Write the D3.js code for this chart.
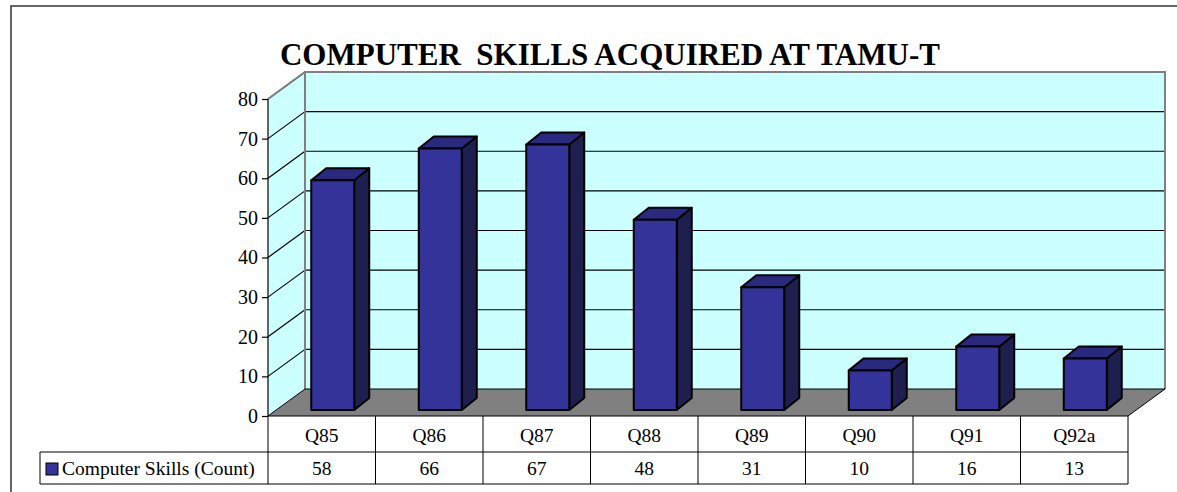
<!DOCTYPE html>
<html><head><meta charset="utf-8">
<script src="https://cdn.jsdelivr.net/npm/d3@7"></script>
<style>body{margin:0;background:#fff}svg{display:block}svg text{font-family:"Liberation Serif","Times New Roman",serif !important}</style>
</head><body><svg id="c" width="1177" height="492"></svg>
<script>
const categories = ["Q85","Q86","Q87","Q88","Q89","Q90","Q91","Q92a"];
const values = [58,66,67,48,31,10,16,13];
const yTicks = [0,10,20,30,40,50,60,70,80];
const seriesName = "Computer Skills (Count)";
const title = "COMPUTER\u00a0 SKILLS ACQUIRED AT TAMU-T";

const svg = d3.select("#c");
const X0 = 268, X1 = 1128, Y0 = 416, Ytop = 99;
const DX = 37, DY = -27;          // wall depth
const BDX = 15, BDY = -12;        // bar depth
const BOY = -6;                   // bar front offset in depth
const x = d3.scaleBand().domain(categories).range([X0, X1]);
const y = d3.scaleLinear().domain([0, 80]).range([Y0, Ytop]);

// outer frame
svg.append("rect").attr("x",11).attr("y",6).attr("width",1200).attr("height",520)
  .attr("fill","none").attr("stroke","#333").attr("stroke-width",1.5);

// title
svg.append("text").attr("x",610).attr("y",65).attr("text-anchor","middle")
  .attr("font-size",31).attr("font-weight","bold").text(title);

const wall = "#ccffff";
svg.append("polygon").attr("points",[[X0,Y0],[X0,Ytop],[X0+DX,Ytop+DY],[X0+DX,Y0+DY]].join(" "))
  .attr("fill",wall);
svg.append("polygon").attr("points",[[X0+DX,Ytop+DY],[X1+DX,Ytop+DY],[X1+DX,Y0+DY],[X0+DX,Y0+DY]].join(" "))
  .attr("fill",wall);
yTicks.forEach(t=>{
  if(t>0){
    svg.append("line").attr("x1",X0+DX).attr("x2",X1+DX).attr("y1",y(t)+DY).attr("y2",y(t)+DY)
      .attr("stroke","#000").attr("stroke-width",1.2);
    svg.append("line").attr("x1",X0).attr("x2",X0+DX).attr("y1",y(t)).attr("y2",y(t)+DY)
      .attr("stroke","#000").attr("stroke-width",1.2);
  }
});
svg.append("polyline").attr("points",[[X0,Ytop],[X0+DX,Ytop+DY],[X1+DX,Ytop+DY],[X1+DX,Y0+DY]].join(" "))
  .attr("fill","none").attr("stroke","#808080").attr("stroke-width",2);
svg.append("line").attr("x1",X0+DX).attr("x2",X0+DX).attr("y1",Ytop+DY).attr("y2",Y0+DY)
  .attr("stroke","#808080").attr("stroke-width",2);
svg.append("polygon").attr("points",[[X0,Y0],[X1,Y0],[X1+DX,Y0+DY],[X0+DX,Y0+DY]].join(" "))
  .attr("fill","#808080").attr("stroke","#000").attr("stroke-width",1);

svg.append("line").attr("x1",X0).attr("x2",X0).attr("y1",Ytop).attr("y2",Y0).attr("stroke","#000").attr("stroke-width",1.2);
const ax = svg.append("g").attr("transform",`translate(${X0},0)`)
  .call(d3.axisLeft(y).tickValues(yTicks).tickSize(6).tickPadding(4));
ax.select(".domain").remove();
ax.selectAll("line").attr("stroke","#000").attr("stroke-width",1.2);
ax.selectAll("text").attr("font-size",20).attr("fill","#000");

const bw = 43;
const bars = svg.append("g");
categories.forEach((c,i)=>{
  const cx = x(c) + x.bandwidth()/2 + 11;
  const l = cx - bw/2, r = cx + bw/2;
  const b = y(0) + BOY, t = y(values[i]) + BOY;
  const g = bars.append("g").attr("stroke","#000").attr("stroke-width",2).attr("stroke-linejoin","round");
  g.append("polygon").attr("points",[[r,b],[r+BDX,b+BDY],[r+BDX,t+BDY],[r,t]].join(" ")).attr("fill","#1f1f4f");
  g.append("polygon").attr("points",[[l,t],[l+BDX,t+BDY],[r+BDX,t+BDY],[r,t]].join(" ")).attr("fill","#292980");
  g.append("rect").attr("x",l).attr("y",t).attr("width",bw).attr("height",b-t).attr("fill","#333399");
});

const R1 = 452, R2 = 484, LX = 40;
const tb = svg.append("g").attr("stroke","#000").attr("stroke-width",1);
tb.append("line").attr("x1",X0).attr("x2",X0).attr("y1",Y0).attr("y2",R2);
categories.forEach(c=>{
  tb.append("line").attr("x1",x(c)+x.bandwidth()).attr("x2",x(c)+x.bandwidth()).attr("y1",Y0).attr("y2",R2);
});
tb.append("line").attr("x1",LX).attr("x2",X1).attr("y1",R1).attr("y2",R1);
tb.append("line").attr("x1",LX).attr("x2",X1).attr("y1",R2).attr("y2",R2);
tb.append("line").attr("x1",LX).attr("x2",LX).attr("y1",R1).attr("y2",R2);
categories.forEach((c,i)=>{
  svg.append("text").attr("x",x(c)+x.bandwidth()/2).attr("y",442).attr("text-anchor","middle").attr("font-size",19.5).text(c);
  svg.append("text").attr("x",x(c)+x.bandwidth()/2).attr("y",475).attr("text-anchor","middle").attr("font-size",19.5).text(values[i]);
});
svg.append("rect").attr("x",46).attr("y",463).attr("width",12).attr("height",12).attr("fill","#333399").attr("stroke","#000").attr("stroke-width",1);
svg.append("text").attr("x",62).attr("y",475).attr("font-size",19.5).text(seriesName);
</script></body></html>
